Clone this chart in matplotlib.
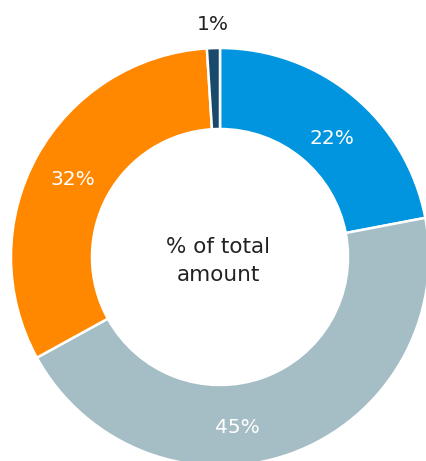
import numpy as np
import matplotlib
matplotlib.use("Agg")
import matplotlib.pyplot as plt

categories = ["A", "B", "C", "D"]
values = [22, 45, 32, 1]
labels = ["22%", "45%", "32%", "1%"]
colors = ["#0095DE", "#A5BDC5", "#FF8800", "#1A4A6B"]
label_colors = ["white", "white", "white", "#222222"]
label_radius = [163, 171, 166, 233]
label_angle_shift = [4, 14, -1, 0]
center_text = "% of total\namount"

W, H = 426, 461
fig = plt.figure(figsize=(W / 100, H / 100), dpi=100)
ax = fig.add_axes([0, 0, 1, 1])

cx, cy = 220, H - 257
R, width = 209, 81
ax.pie(values, colors=colors, startangle=90, counterclock=False,
       radius=R, center=(cx, cy), frame=True,
       wedgeprops=dict(width=width, edgecolor="white", linewidth=1.8))
ax.set_xlim(0, W)
ax.set_ylim(0, H)
ax.set_aspect("equal")
ax.axis("off")

total = sum(values)
cum = 0
for v, lab, lc, lr, sh in zip(values, labels, label_colors, label_radius, label_angle_shift):
    mid = (cum + v / 2) / total * 360 + sh
    cum += v
    ang = np.deg2rad(mid)
    x = cx + lr * np.sin(ang)
    y = cy + lr * np.cos(ang)
    ax.text(x, y, lab, color=lc, ha="center", va="center", fontsize=14.5,
            family="DejaVu Sans", fontweight="normal")

ax.text(cx - 2, cy - 4, center_text, ha="center", va="center", fontsize=15.5,
        family="DejaVu Sans", color="#222222", linespacing=1.45)

fig.savefig("out.png", dpi=100)
